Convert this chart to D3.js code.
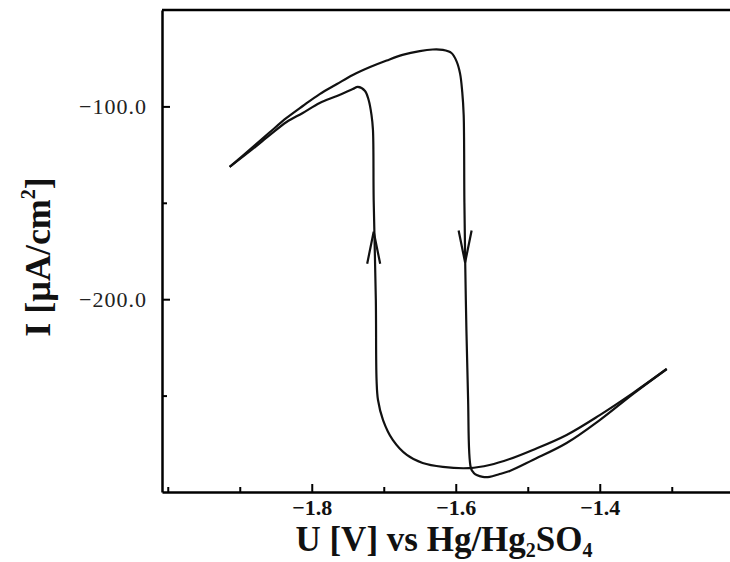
<!DOCTYPE html>
<html>
<head>
<meta charset="utf-8">
<script src="https://cdn.jsdelivr.net/npm/d3@7"></script>
<style>
  body { margin: 0; background: #fff; }
  svg { display: block; }
</style>
</head>
<body>
<div id="chartContainer"></div>
<script>

// forward scan (U increasing): upper branch, drop at -1.59, lower bottom branch
var forwardScan = [
    [-1.914, -131.4], [-1.882, -121.1], [-1.858, -113.3], [-1.835, -106.0],
    [-1.8125, -99.8], [-1.789, -93.6], [-1.765, -88.4], [-1.743, -83.7],
    [-1.719, -79.6], [-1.696, -76.2], [-1.674, -73.3], [-1.650, -71.3],
    [-1.632, -70.5], [-1.618, -70.7], [-1.606, -72.3], [-1.599, -76.5],
    [-1.594, -83.0], [-1.591, -92.5], [-1.589, -104.5], [-1.588, -150.0],
    [-1.586, -200.4], [-1.583, -250.0], [-1.579, -287.6], [-1.575, -290.1],
    [-1.571, -291.2], [-1.5625, -292.2], [-1.553, -292.2], [-1.539, -290.7],
    [-1.525, -289.1], [-1.493, -283.4], [-1.446, -274.6], [-1.400, -262.7],
    [-1.354, -249.2], [-1.307, -236.2]
]

// reverse scan (U decreasing): upper bottom branch, jump at -1.71, back to start
var reverseScan = [
    [-1.307, -236.2], [-1.354, -248.7], [-1.400, -260.1], [-1.446, -270.4],
    [-1.493, -278.2], [-1.525, -282.9], [-1.553, -286.0], [-1.581, -287.6],
    [-1.618, -287.0], [-1.646, -285.0], [-1.668, -280.8], [-1.6875, -273.0],
    [-1.701, -262.7], [-1.708, -252.3], [-1.710, -241.9], [-1.711, -200.4],
    [-1.714, -148.5], [-1.715, -112.2], [-1.717, -104.5], [-1.721, -96.7],
    [-1.726, -92.0], [-1.736, -89.9], [-1.743, -91.0], [-1.765, -94.6],
    [-1.789, -98.2], [-1.8125, -103.4], [-1.835, -108.1], [-1.858, -114.8],
    [-1.882, -122.1], [-1.914, -131.4]
]

var xTicks = [-2.0, -1.9, -1.8, -1.7, -1.6, -1.5, -1.4, -1.3]
var xLabels = [-1.8, -1.6, -1.4]
var yTicks = [-100, -150, -200, -250]
var yLabels = [-100, -200]

// scan direction markers
var arrows = [
    { u: -1.714, i: -165, dir: 1 },
    { u: -1.587, i: -181, dir: -1 }
]

var width = 730,
    height = 562

var svg = d3.select('#chartContainer').append('svg')
    .attr('width', width)
    .attr('height', height)

svg.append('rect')
    .attr('width', width)
    .attr('height', height)
    .attr('fill', '#fff')

var xScale = d3.scaleLinear()
    .domain([-2.008, -1.2])
    .range([162, 162 + 0.808 * 720])

var yScale = d3.scaleLinear()
    .domain([-300, -50])
    .range([492, 10])

var serif = "'Liberation Serif', 'Times New Roman', serif"

function isLabel(list, d) {
    return list.some(function(v) { return Math.abs(v - d) < 1e-6 })
}

// x axis, ticks pointing inward
var xAxisG = svg.append('g')
    .attr('class', 'xAxis')
    .attr('transform', 'translate(0,' + 492 + ')')
    .call(d3.axisBottom(xScale)
        .tickValues(xTicks)
        .tickSizeInner(-5)
        .tickSizeOuter(0)
        .tickPadding(7)
        .tickFormat(function(d) { return isLabel(xLabels, d) ? d3.format('.1f')(d) : '' }))

xAxisG.selectAll('.tick line')
    .attr('y2', function(d) { return isLabel(xLabels, d) ? -8 : -5 })
    .attr('stroke-width', 2)
xAxisG.select('.domain').attr('stroke-width', 2.5)
xAxisG.selectAll('text')
    .attr('font-family', serif)
    .attr('font-size', 22)
    .attr('font-weight', 'bold')
    .attr('fill', '#111')

// y axis
var yAxisG = svg.append('g')
    .attr('class', 'yAxis')
    .attr('transform', 'translate(' + 162 + ',0)')
    .call(d3.axisLeft(yScale)
        .tickValues(yTicks)
        .tickSizeInner(-5)
        .tickSizeOuter(0)
        .tickPadding(15)
        .tickFormat(function(d) { return isLabel(yLabels, d) ? d3.format('.1f')(d) : '' }))

yAxisG.selectAll('.tick line')
    .attr('x2', function(d) { return isLabel(yLabels, d) ? 8 : 5 })
    .attr('stroke-width', 2)
yAxisG.select('.domain').attr('stroke-width', 2.5)
yAxisG.selectAll('text')
    .attr('font-family', serif)
    .attr('font-size', 22)
    .attr('letter-spacing', 1)
    .attr('fill', '#222')

// top frame line
svg.append('line')
    .attr('x1', xScale.range()[0])
    .attr('x2', xScale.range()[1])
    .attr('y1', yScale(-50))
    .attr('y2', yScale(-50))
    .attr('stroke', '#000')
    .attr('stroke-width', 2.5)

var line = d3.line()
    .x(function(d) { return xScale(d[0]) })
    .y(function(d) { return yScale(d[1]) })
    .curve(d3.curveCatmullRom.alpha(0.5))

svg.selectAll('.scan')
    .data([forwardScan, reverseScan])
    .enter()
    .append('path')
    .attr('class', 'scan')
    .attr('d', line)
    .attr('fill', 'none')
    .attr('stroke', '#111')
    .attr('stroke-width', 2.2)
    .attr('stroke-linejoin', 'round')

svg.selectAll('.arrow')
    .data(arrows)
    .enter()
    .append('path')
    .attr('class', 'arrow')
    .attr('d', function(d) {
        var x = xScale(d.u), y = yScale(d.i)
        return 'M' + (x - 6.5) + ',' + (y + d.dir * 32) + 'L' + x + ',' + y + 'L' + (x + 6.5) + ',' + (y + d.dir * 32)
    })
    .attr('fill', 'none')
    .attr('stroke', '#111')
    .attr('stroke-width', 2.2)

// axis titles
var xTitle = svg.append('text')
    .attr('x', 444)
    .attr('y', 551)
    .attr('text-anchor', 'middle')
    .attr('font-family', serif)
    .attr('font-size', 35)
    .attr('font-weight', 'bold')
    .attr('fill', '#111')
xTitle.append('tspan').text('U [V] vs Hg/Hg')
xTitle.append('tspan').attr('font-size', 20).attr('dy', 6).text('2')
xTitle.append('tspan').attr('dy', -6).text('SO')
xTitle.append('tspan').attr('font-size', 20).attr('dy', 6).text('4')

var yTitle = svg.append('text')
    .attr('transform', 'translate(' + 50 + ',' + 257 + ') rotate(-90)')
    .attr('text-anchor', 'middle')
    .attr('font-family', serif)
    .attr('font-size', 36)
    .attr('font-weight', 'bold')
    .attr('fill', '#111')
yTitle.append('tspan').text('I [µA/cm')
yTitle.append('tspan').attr('font-size', 20).attr('dy', -15).text('2')
yTitle.append('tspan').attr('dy', 15).text(']')

</script>
</body>
</html>
